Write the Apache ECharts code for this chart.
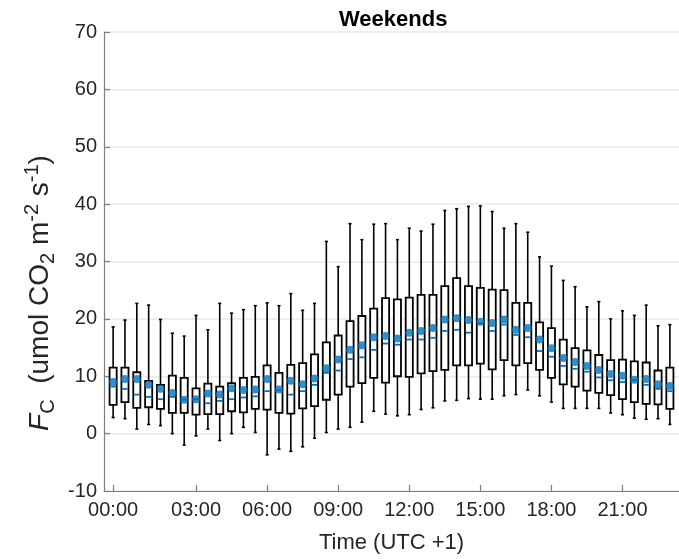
<!DOCTYPE html>
<html>
<head>
<meta charset="utf-8">
<script src="https://cdn.jsdelivr.net/npm/echarts@6/dist/echarts.min.js"></script>
<style>
  html, body { margin: 0; padding: 0; background: #fff; }
  #chart { width: 679px; height: 559px; }
</style>
</head>
<body>
<div id="chart"></div>
<script>
// Half-hourly CO2 flux distribution on weekends (48 slots, 00:00 .. 23:30)
const whiskerLow  = [2.8, 2.6, 0.8, 1.6, 1.4, 0.0, -2.0, -0.4, 0.8, -1.2, 0.0, 1.1, 0.2, -3.7, -2.7, -3.1,
                     -2.3, -0.8, 0.2, 0.8, 1.1, 2.0, 3.9, 3.4, 3.1, 3.3, 4.2, 4.5, 5.7, 5.8, 6.1, 6.0,
                     6.0, 6.6, 6.8, 7.6, 6.6, 5.5, 4.4, 4.4, 4.4, 4.4, 3.6, 3.3, 2.7, 2.5, 2.6, 1.6];
const quart1      = [5.0, 5.5, 4.5, 4.6, 4.3, 3.6, 3.6, 3.3, 3.4, 3.4, 3.9, 3.7, 4.3, 4.2, 3.6, 3.5,
                     4.4, 4.8, 5.9, 6.8, 8.2, 8.8, 9.7, 8.9, 10.0, 9.9, 10.5, 10.9, 11.1, 11.9, 11.9, 12.2,
                     11.2, 12.8, 11.9, 12.3, 11.1, 9.7, 8.6, 8.2, 7.5, 7.1, 6.7, 6.0, 5.5, 5.2, 5.1, 4.3];
const medians     = [8.2, 7.8, 6.8, 6.4, 6.0, 6.4, 5.9, 6.0, 5.3, 5.7, 6.0, 6.3, 6.5, 7.4, 7.6, 6.8,
                     7.4, 8.5, 10.6, 11.0, 13.0, 13.3, 14.6, 15.7, 15.5, 16.4, 16.4, 16.7, 17.9, 18.1, 17.6, 19.2,
                     17.9, 19.0, 17.2, 16.8, 14.4, 13.4, 11.8, 11.3, 10.8, 9.8, 9.3, 9.0, 9.3, 8.5, 7.8, 7.4];
const quart3      = [11.5, 11.5, 10.7, 9.2, 8.5, 10.1, 9.7, 7.9, 8.7, 8.2, 8.8, 9.7, 9.9, 11.9, 10.6, 12.0,
                     12.3, 13.8, 15.9, 17.1, 19.6, 20.5, 21.8, 23.6, 23.4, 23.7, 24.2, 24.2, 25.7, 27.1, 25.7, 25.4,
                     25.1, 25.0, 22.8, 22.8, 19.4, 18.4, 16.4, 14.9, 14.5, 13.7, 12.8, 12.9, 12.6, 12.4, 11.0, 11.5];
const whiskerHigh = [18.6, 19.8, 22.7, 22.4, 19.9, 17.5, 17.0, 20.6, 18.1, 22.7, 21.0, 21.6, 22.3, 22.8, 22.3, 24.4,
                     21.5, 22.7, 33.5, 29.1, 36.6, 33.8, 36.5, 36.6, 33.8, 35.8, 35.3, 36.5, 38.9, 39.2, 39.6, 39.7,
                     38.7, 35.8, 36.6, 35.1, 30.8, 29.2, 26.7, 25.6, 22.1, 23.0, 20.0, 21.4, 20.6, 22.4, 18.8, 19.0];
const means       = [9.0, 9.5, 9.5, 8.5, 7.8, 7.1, 5.9, 6.0, 7.0, 6.8, 7.9, 7.6, 7.7, 9.5, 7.7, 9.2,
                     8.6, 9.6, 11.4, 12.9, 14.6, 15.4, 16.8, 17.0, 16.6, 17.6, 17.9, 18.4, 19.9, 20.1, 19.8, 19.5,
                     19.3, 19.9, 18.1, 18.4, 16.4, 14.9, 13.2, 12.5, 11.8, 11.1, 10.4, 10.1, 9.4, 9.5, 8.6, 8.3];

// Slot indices that carry a time label, and the labels themselves
const tickSlots  = [0, 7, 13, 19, 25, 31, 37, 43];
const tickLabels = ['00:00', '03:00', '06:00', '09:00', '12:00', '15:00', '18:00', '21:00'];

const BLUE = '#0072BD';
const FONT = '"Liberation Sans", Arial, Helvetica, sans-serif';
const AXIS_GREY = '#7f7f7f';

const boxData  = whiskerLow.map((lo, i) => [i, lo, quart1[i], medians[i], quart3[i], whiskerHigh[i]]);
const meanData = means.map((m, i) => [i, m]);

function renderBox(params, api) {
  const x = api.value(0);
  const pLo  = api.coord([x, api.value(1)]);
  const pQ1  = api.coord([x, api.value(2)]);
  const pMed = api.coord([x, api.value(3)]);
  const pQ3  = api.coord([x, api.value(4)]);
  const pHi  = api.coord([x, api.value(5)]);
  const unit = api.size([1, 0])[0];
  const half = unit * 0.3;
  const cap = unit * 0.13;
  const medHalf = unit * 0.22;
  const cx = pQ1[0];
  const black = { stroke: '#000', lineWidth: 1.6, fill: null };
  return {
    type: 'group',
    children: [
      { type: 'line', shape: { x1: cx, y1: pHi[1], x2: cx, y2: pQ3[1] }, style: black },
      { type: 'line', shape: { x1: cx, y1: pQ1[1], x2: cx, y2: pLo[1] }, style: black },
      { type: 'line', shape: { x1: cx - cap, y1: pHi[1], x2: cx + cap, y2: pHi[1] }, style: black },
      { type: 'line', shape: { x1: cx - cap, y1: pLo[1], x2: cx + cap, y2: pLo[1] }, style: black },
      { type: 'rect', shape: { x: cx - half, y: pQ3[1], width: half * 2, height: pQ1[1] - pQ3[1] },
        style: { stroke: '#000', lineWidth: 1.8, fill: '#fff' } },
      { type: 'line', shape: { x1: cx - medHalf, y1: pMed[1], x2: cx + medHalf, y2: pMed[1] },
        style: { stroke: BLUE, lineWidth: 1.8 } }
    ]
  };
}

const chart = echarts.init(document.getElementById('chart'), null, { renderer: 'canvas' });
chart.setOption({
  animation: false,
  backgroundColor: '#fff',
  title: {
    text: 'Weekends',
    left: 334,
    top: 4,
    textStyle: { fontFamily: FONT, fontSize: 22, fontWeight: 'bold', color: '#000' }
  },
  grid: { left: 104, right: -11, top: 32, bottom: 67, containLabel: false },
  xAxis: {
    type: 'value',
    min: -0.77,
    max: 47.77,
    name: 'Time (UTC +1)',
    nameLocation: 'middle',
    nameGap: 41,
    nameTextStyle: { fontFamily: FONT, fontSize: 22, color: '#262626' },
    axisLine: { show: true, onZero: false, lineStyle: { color: AXIS_GREY, width: 1.2 } },
    axisTick: { show: true, inside: true, length: 6, customValues: tickSlots,
                lineStyle: { color: AXIS_GREY, width: 1.2 } },
    axisLabel: {
      customValues: tickSlots,
      margin: 9,
      fontFamily: FONT, fontSize: 20, color: '#262626',
      formatter: v => tickLabels[tickSlots.indexOf(Math.round(v))] || ''
    },
    splitLine: { show: false }
  },
  yAxis: {
    type: 'value',
    min: -10,
    max: 70,
    interval: 10,
    axisLine: { show: true, onZero: false, lineStyle: { color: AXIS_GREY, width: 1.2 } },
    axisTick: { show: true, inside: true, length: 6, lineStyle: { color: AXIS_GREY, width: 1.2 } },
    axisLabel: { margin: 7, fontFamily: FONT, fontSize: 20, color: '#262626' },
    splitLine: { show: true, lineStyle: { color: '#e8e8e8', width: 1.5 } }
  },
  graphic: [{
    type: 'text',
    x: 40,
    y: 293,
    rotation: Math.PI / 2,
    style: {
      text: '{it|F}{sub|C}{n|  (umol CO}{sub|2}{n| m}{sup|-2}{n| s}{sup|-1}{n|)}',
      align: 'center',
      verticalAlign: 'middle',
      fill: '#262626',
      rich: {
        it:  { fontFamily: FONT, fontSize: 28, fontStyle: 'italic', fill: '#262626', lineHeight: 36, verticalAlign: 'middle' },
        n:   { fontFamily: FONT, fontSize: 28, fill: '#262626', lineHeight: 36, verticalAlign: 'middle' },
        sub: { fontFamily: FONT, fontSize: 20, fill: '#262626', lineHeight: 36, verticalAlign: 'bottom' },
        sup: { fontFamily: FONT, fontSize: 20, fill: '#262626', lineHeight: 36, verticalAlign: 'top' }
      }
    }
  }],
  series: [
    {
      type: 'custom',
      renderItem: renderBox,
      data: boxData,
      encode: { x: 0, y: [1, 2, 3, 4, 5] },
      clip: false,
      z: 2
    },
    {
      type: 'scatter',
      data: meanData,
      symbol: 'circle',
      symbolSize: 8,
      itemStyle: { color: BLUE },
      z: 3
    }
  ]
});
</script>
</body>
</html>
